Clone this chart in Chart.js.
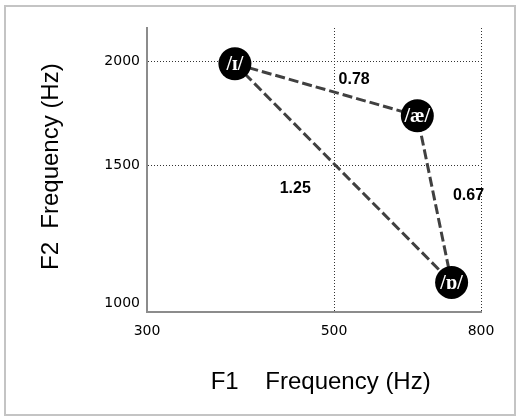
<!DOCTYPE html>
<html>
<head>
<meta charset="utf-8">
<style>
  html, body { margin: 0; padding: 0; background: #fff; }
  #wrap { position: relative; width: 518px; height: 419px; }
</style>
<script src="https://cdn.jsdelivr.net/npm/chart.js@4/dist/chart.umd.min.js"></script>
</head>
<body>
<div id="wrap"><canvas id="vowelChart"></canvas></div>
<script>
// vowel formant values (Hz)
const vowels = ['/ɪ/', '/æ/', '/ɒ/'];
const vowelF1 = [394, 670, 740];
const vowelF2 = [1990, 1740, 1075];

// distances between vowel pairs
const edgePairs = [[0, 1], [1, 2], [0, 2]];
const edgeLabels = ['0.78', '0.67', '1.25'];

const xTicks = [300, 500, 800];
const yTicks = [1000, 1500, 2000];

// label nudges in px, relative to the middle of each edge
const edgeOffsets = [[28, -10], [34, -4], [-48, 15]];

// axis with uneven spacing between the tick values
class PiecewiseScale extends Chart.LinearScale {
    toDecimal(value) {
        const b = this.options.breaks;
        let i = 1;
        while (i < b.length - 1 && value > b[i][0]) i++;
        const [v0, d0] = b[i - 1];
        const [v1, d1] = b[i];
        return d0 + (value - v0) / (v1 - v0) * (d1 - d0);
    }
    getPixelForValue(value) {
        return this.getPixelForDecimal(this.toDecimal(value));
    }
    getValueForPixel(pixel) {
        const d = this.getDecimalForPixel(pixel);
        const b = this.options.breaks;
        let i = 1;
        while (i < b.length - 1 && d > b[i][1]) i++;
        const [v0, d0] = b[i - 1];
        const [v1, d1] = b[i];
        return v0 + (d - d0) / (d1 - d0) * (v1 - v0);
    }
}
PiecewiseScale.id = 'piecewise';
PiecewiseScale.defaults = Chart.LinearScale.defaults;
Chart.register(PiecewiseScale);

const framePlugin = {
    id: 'frame',
    beforeDraw(chart) {
        const ctx = chart.ctx;
        ctx.save();
        ctx.fillStyle = '#fff';
        ctx.fillRect(0, 0, chart.width, chart.height);
        ctx.strokeStyle = '#c4c4c4';
        ctx.lineWidth = 2;
        ctx.strokeRect(5, 6, 510, 409);
        ctx.restore();
    }
};

const labelPlugin = {
    id: 'vowelLabels',
    afterDatasetsDraw(chart) {
        const ctx = chart.ctx;
        const pts = chart.getDatasetMeta(1).data;
        ctx.save();
        ctx.textAlign = 'center';
        ctx.textBaseline = 'middle';

        ctx.fillStyle = '#000';
        ctx.font = 'bold 16px "Liberation Sans"';
        edgePairs.forEach((pair, i) => {
            const a = pts[pair[0]], b = pts[pair[1]];
            const mx = (a.x + b.x) / 2 + edgeOffsets[i][0];
            const my = (a.y + b.y) / 2 + edgeOffsets[i][1];
            ctx.fillText(edgeLabels[i], mx, my);
        });

        ctx.fillStyle = '#fff';
        ctx.font = 'bold 20px "Liberation Serif"';
        pts.forEach((p, i) => {
            ctx.fillText(vowels[i], p.x, p.y + 1);
        });
        ctx.restore();
    }
};

const trianglePath = [0, 1, 2, 0].map(i => ({ x: vowelF1[i], y: vowelF2[i] }));
const vowelPoints = vowels.map((v, i) => ({ x: vowelF1[i], y: vowelF2[i] }));

const ctx = document.getElementById('vowelChart').getContext('2d');
new Chart(ctx, {
    type: 'scatter',
    data: {
        datasets: [
            {
                label: 'edges',
                data: trianglePath,
                showLine: true,
                fill: false,
                borderColor: '#404040',
                borderWidth: 3,
                borderDash: [10, 4],
                pointRadius: 0,
                pointHoverRadius: 0,
                order: 1
            },
            {
                label: 'vowels',
                data: vowelPoints,
                backgroundColor: '#000',
                borderWidth: 0,
                pointRadius: 16.5,
                pointHoverRadius: 16.5,
                order: 0
            }
        ]
    },
    options: {
        responsive: true,
        maintainAspectRatio: false,
        animation: false,
        events: [],
        layout: { padding: { top: 28, right: 37, left: 0, bottom: 0 } },
        plugins: {
            legend: { display: false },
            tooltip: { enabled: false }
        },
        scales: {
            x: {
                type: 'piecewise',
                min: 300,
                max: 800,
                breaks: [[300, 0], [500, 0.56], [800, 1]],
                afterBuildTicks: axis => { axis.ticks = xTicks.map(v => ({ value: v })); },
                afterFit: axis => { axis.height = 107; },
                ticks: {
                    callback: v => String(v),
                    color: '#000',
                    font: { family: 'DejaVu Sans', size: 14 },
                    padding: 11,
                    maxRotation: 0
                },
                grid: {
                    drawTicks: false,
                    color: c => (c.tick && c.tick.value === 300) ? 'rgba(0,0,0,0)' : '#333',
                    lineWidth: 1
                },
                border: { display: true, color: '#8c8c8c', width: 2, dash: [1, 2] },
                title: {
                    display: true,
                    text: '  F1    Frequency (Hz)',
                    color: '#000',
                    font: { family: 'Liberation Sans', size: 24 },
                    padding: { top: 0, bottom: 22 }
                }
            },
            y: {
                type: 'piecewise',
                min: 967,
                max: 2160,
                breaks: [[967, 0], [1000, 0.0317], [1500, 0.5151], [2000, 0.8813], [2160, 1]],
                afterBuildTicks: axis => { axis.ticks = yTicks.map(v => ({ value: v })); },
                afterFit: axis => { axis.width = 147; },
                ticks: {
                    callback: v => String(v),
                    color: '#000',
                    font: { family: 'DejaVu Sans', size: 14 },
                    padding: 7
                },
                grid: {
                    drawTicks: false,
                    color: c => (c.tick && c.tick.value === 1000) ? 'rgba(0,0,0,0)' : '#333',
                    lineWidth: 1
                },
                border: { display: true, color: '#8c8c8c', width: 2, dash: [1, 2] },
                title: {
                    display: true,
                    text: ' F2  Frequency (Hz)',
                    color: '#000',
                    font: { family: 'Liberation Sans', size: 24 },
                    padding: { top: 37, bottom: 0 }
                }
            }
        }
    },
    plugins: [framePlugin, labelPlugin]
});
</script>
</body>
</html>
